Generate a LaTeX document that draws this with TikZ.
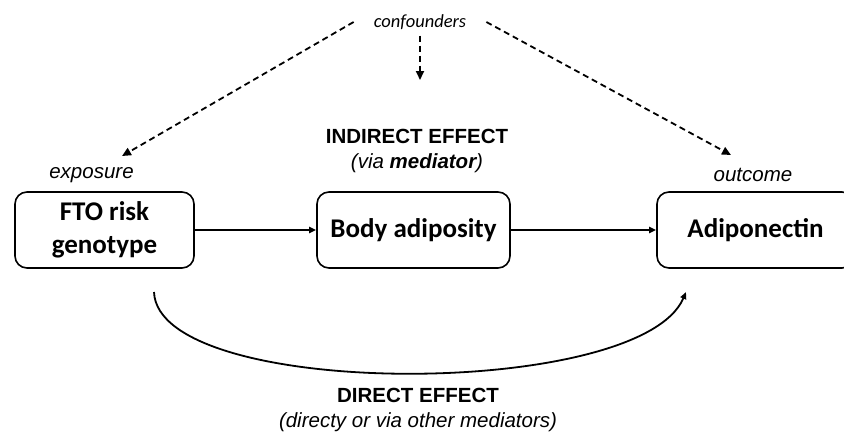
\documentclass[tikz,border=0pt]{standalone}
\usepackage{fontspec}
\setmainfont{Liberation Sans}
\newfontfamily\califont{Carlito}
\usetikzlibrary{arrows.meta}

\tikzset{
  factor/.style={draw, line width=1.6pt, rounded corners=12pt, minimum height=76pt,
    inner sep=0pt, align=center, font=\califont\bfseries\fontsize{27}{33}\selectfont},
  role/.style={font=\itshape\fontsize{20.5}{25}\selectfont},
  effect/.style={align=center, font=\fontsize{20.5}{25}\selectfont},
  link/.style={line width=1.8pt, -{Triangle[length=7pt,width=6pt]}},
  confound/.style={line width=1.8pt, dash pattern=on 6pt off 4pt, -{Triangle[length=9pt,width=8pt]}},
}

\begin{document}
\begin{tikzpicture}[x=1pt,y=-1pt]
        \clip (0,0) rectangle (844,437);

        \node[factor, minimum width=179pt] (fto) at (104.5,230) {FTO risk\\genotype};
        \node[factor, minimum width=193pt] (body) at (413.5,230) {Body adiposity};
        \node[factor, minimum width=197pt] (adipo) at (755.5,230) {Adiponectin};

        \node[role] (expo) at (91.5,175) {exposure};
        \node[role] (outc) at (753,175) {outcome};
        \node[font=\califont\itshape\fontsize{18.5}{22}\selectfont, inner xsep=20pt, inner ysep=6pt] (conf) at (420,22) {confounders};
        \node[effect] (indirect) at (417,150.5) {\textbf{INDIRECT EFFECT}\\\textit{(via \textbf{mediator})}};
        \node[effect] (direct) at (418,409.5) {\textbf{DIRECT EFFECT}\\\textit{(directy or via other mediators)}};

        % confounder arrows
        \coordinate (tipexpo) at (122,156);
        \coordinate (tipbody) at (420,80);
        \coordinate (tipoutc) at (731,155);
        \draw[confound] (conf.west) -- (tipexpo);
        \draw[confound] (conf.south) -- (tipbody);
        \draw[confound] (conf.east) -- (tipoutc);

        % indirect and direct paths
        \draw[link] (fto) -- (body);
        \draw[link] (body) -- (adipo);
        \coordinate (dstart) at (154,292);
        \coordinate (dend) at (686,292);
        \draw[link] (dstart) .. controls (158,400) and (640,400) .. (dend);
    \end{tikzpicture}
\end{document}
